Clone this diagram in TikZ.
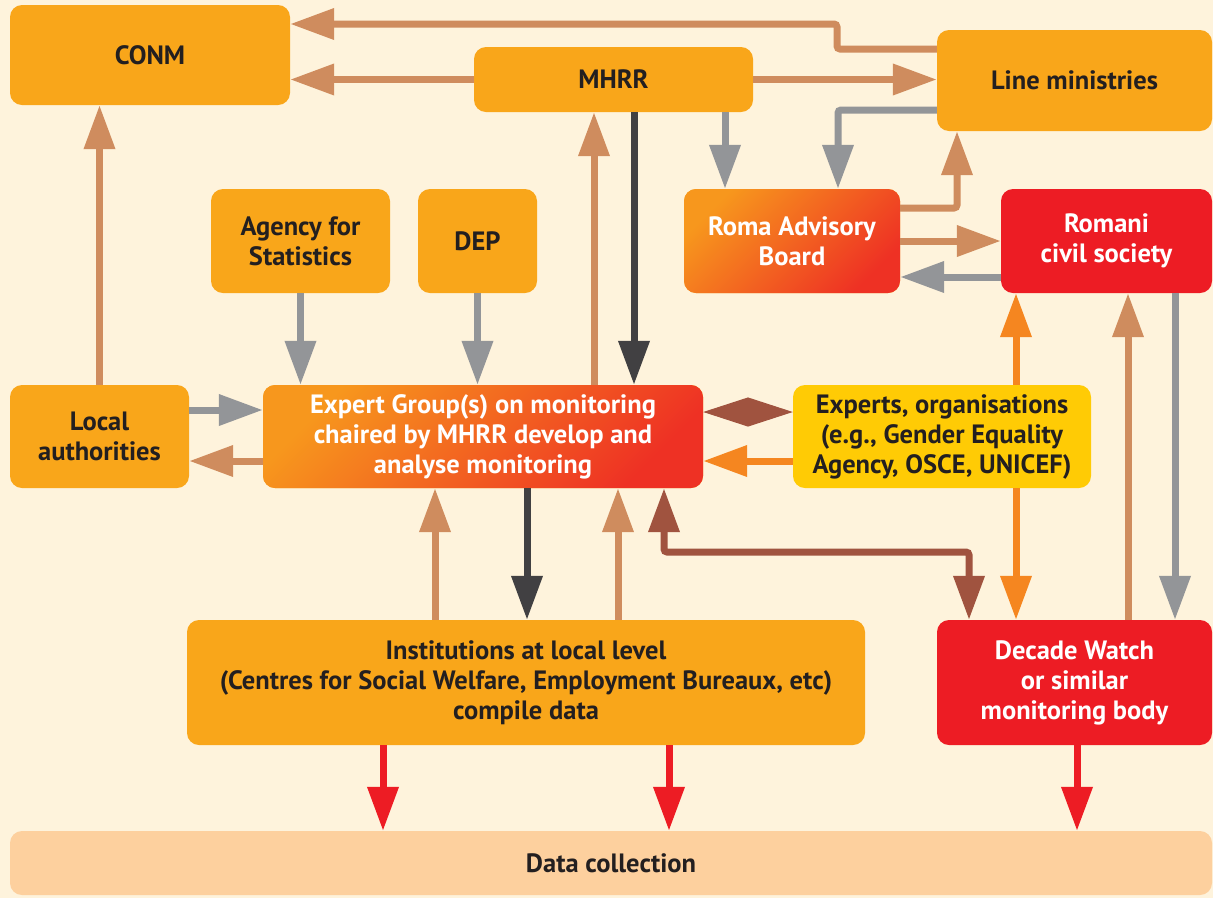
\documentclass[tikz,border=0pt]{standalone}
\usepackage{fontspec}
\setmainfont{PT Sans}
\usetikzlibrary{arrows.meta}
\definecolor{bg}{HTML}{FEF3DC}
\definecolor{boxor}{HTML}{F9A61A}
\definecolor{boxred}{HTML}{ED1C24}
\definecolor{boxyel}{HTML}{FFCB05}
\definecolor{peach}{HTML}{FDD09E}
\definecolor{txt}{HTML}{231F20}
\definecolor{gradA}{HTML}{F7971D}
\definecolor{gradB}{HTML}{EE3124}
\definecolor{tanc}{HTML}{CF8C5E}
\definecolor{grayc}{HTML}{939598}
\definecolor{darkc}{HTML}{414042}
\definecolor{brownc}{HTML}{A0533F}
\definecolor{orangec}{HTML}{F58620}
\definecolor{redc}{HTML}{ED1C24}
\begin{document}
\begin{tikzpicture}[x=1pt,y=-1pt,
  box/.style={rectangle, rounded corners=12pt, inner sep=0pt, align=center,
    font=\bfseries\fontsize{26.5}{30}\selectfont, text=txt, fill=boxor},
  redbox/.style={box, fill=boxred, text=white},
  gradbox/.style={box, text=white, top color=gradA, bottom color=gradB, shading angle=45},
  yelbox/.style={box, fill=boxyel},
  conn/.style={line width=7pt, -{Triangle[length=44pt,width=30pt]}},
  tanA/.style={conn, draw=tanc, color=tanc},
  grayA/.style={conn, draw=grayc, color=grayc},
  darkA/.style={conn, draw=darkc, color=darkc},
  redA/.style={conn, draw=redc, color=redc},
  orangeA/.style={conn, draw=orangec, color=orangec},
  brownA/.style={line width=7pt, draw=brownc, color=brownc, {Triangle[length=44pt,width=30pt]}-{Triangle[length=44pt,width=30pt]}},
  diam/.style={line width=1pt, draw=brownc, color=brownc, {Triangle[length=45pt,width=29pt]}-{Triangle[length=45pt,width=29pt]}}
]
\useasboundingbox (0,0) rectangle (1213,898);
\fill[bg] (0,0) rectangle (1213,898);

% nodes
\node[box, minimum width=280pt, minimum height=100pt] (conm) at (150,55) {CONM};
\node[box, minimum width=279pt, minimum height=65pt] (mhrr) at (613.5,79.5) {MHRR};
\node[box, minimum width=275pt, minimum height=101pt] (lm) at (1074.5,80.5) {Line ministries};
\node[box, minimum width=179pt, minimum height=104pt] (agency) at (300.5,241) {Agency for\\Statistics};
\node[box, minimum width=119pt, minimum height=104pt] (dep) at (477.5,241) {DEP};
\node[gradbox, minimum width=216pt, minimum height=104pt] (rab) at (792,241) {Roma Advisory\\Board};
\node[redbox, minimum width=211pt, minimum height=104pt] (rcs) at (1106.5,241) {Romani\\civil society};
\node[box, minimum width=179pt, minimum height=103pt] (la) at (99.5,436.5) {Local\\authorities};
\node[gradbox, minimum width=440pt, minimum height=103pt] (eg) at (483,436.5) {Expert Group(s) on monitoring\\chaired by MHRR develop and\\analyse monitoring};
\node[yelbox, minimum width=298pt, minimum height=103pt] (exp) at (942,436.5) {Experts, organisations\\(e.g., Gender Equality\\Agency, OSCE, UNICEF)};
\node[box, minimum width=678pt, minimum height=125pt] (inst) at (526,682.5) {Institutions at local level\\(Centres for Social Welfare, Employment Bureaux, etc)\\compile data};
\node[redbox, minimum width=275pt, minimum height=125pt] (dw) at (1074.5,682.5) {Decade Watch\\or similar\\monitoring body};
\node[box, fill=peach, minimum width=1202pt, minimum height=64pt] (data) at (611,863) {Data collection};

% connectors
\draw[tanA, rounded corners=3pt] (lm.west |- 0,49) -| (837,24) -- (conm.east |- 0,24);
\draw[tanA] (mhrr.west) -- (conm.east |- mhrr.west);
\draw[tanA] (mhrr.east) -- (lm.west |- mhrr.east);
\draw[grayA] (mhrr.south -| 725,0) -- (rab.north -| 725,0);
\draw[grayA, rounded corners=3pt] (lm.west |- 0,110) -| (rab.north -| 838,0);
\draw[tanA, rounded corners=3pt] (rab.east |- 0,208) -| (lm.south -| 957,0);
\draw[tanA] (rab.east |- 0,241) -- (rcs.west |- 0,241);
\draw[grayA] (rcs.west |- 0,277) -- (rab.east |- 0,277);
\draw[darkA] (mhrr.south -| 634,0) -- (eg.north -| 634,0);
\draw[tanA] (eg.north -| 594,0) -- (mhrr.south -| 594,0);
\draw[tanA] (la.north) -- (conm.south -| la.north);
\draw[grayA] (agency.south) -- (eg.north -| agency.south);
\draw[grayA] (dep.south) -- (eg.north -| dep.south);
\draw[grayA] (la.east |- 0,410) -- (eg.west |- 0,410);
\draw[tanA] (eg.west |- 0,461) -- (la.east |- 0,461);
\draw[diam] (eg.east |- 0,412) -- (exp.west |- 0,412);
\draw[orangeA] (exp.west |- 0,461) -- (eg.east |- 0,461);
\draw[orangeA] (exp.north -| 1016,0) -- (rcs.south -| 1016,0);
\draw[orangeA] (exp.south -| 1016,0) -- (dw.north -| 1016,0);
\draw[tanA] (dw.north -| 1128,0) -- (rcs.south -| 1128,0);
\draw[grayA] (rcs.south -| 1175,0) -- (dw.north -| 1175,0);
\draw[brownA, rounded corners=3pt] (eg.south -| 664,0) |- (969,552) -- (dw.north -| 969,0);
\draw[tanA] (inst.north -| 435,0) -- (eg.south -| 435,0);
\draw[darkA] (eg.south -| 527,0) -- (inst.north -| 527,0);
\draw[tanA] (inst.north -| 618,0) -- (eg.south -| 618,0);
\draw[redA] (inst.south -| 383,0) -- (data.north -| 383,0);
\draw[redA] (inst.south -| 669,0) -- (data.north -| 669,0);
\draw[redA] (dw.south -| 1077,0) -- (data.north -| 1077,0);
\end{tikzpicture}
\end{document}
